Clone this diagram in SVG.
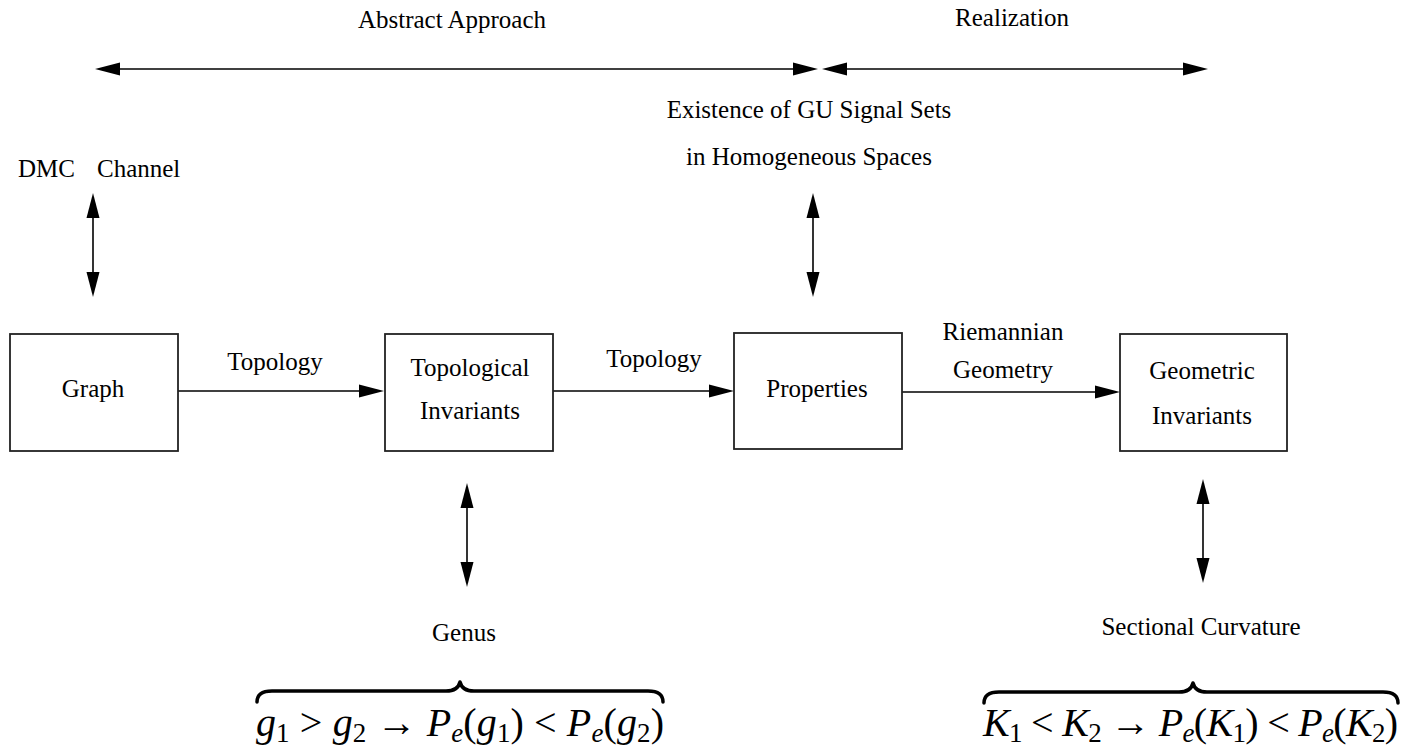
<svg xmlns="http://www.w3.org/2000/svg" width="1414" height="749" viewBox="0 0 1414 749">
<style>
text{font-family:"Liberation Serif","Times New Roman",serif;font-size:25px;fill:#000}
.c{text-anchor:middle}
.box{fill:#fff;stroke:#222;stroke-width:1.8}
.ln{stroke:#000;stroke-width:1.6;fill:none}
.math{font-size:40px}
.i{font-style:italic}
.sub{font-size:27px}
.brace{fill:none;stroke:#000;stroke-width:3.5;stroke-linecap:round;stroke-linejoin:round}
</style>
<defs>
<marker id="ah" viewBox="0 -7 25 14" refX="0" refY="0" markerWidth="25" markerHeight="14" markerUnits="userSpaceOnUse" orient="auto-start-reverse">
<path d="M0,-6.5 L25,0 L0,6.5 z" fill="#000"/>
</marker>
</defs>

<g id="labels-top">
<text class="c" x="452" y="28">Abstract Approach</text>
<text class="c" x="1012" y="26">Realization</text>
<text class="c" x="809" y="118">Existence of GU Signal Sets</text>
<text class="c" x="809" y="165">in Homogeneous Spaces</text>
<text x="18" y="177">DMC</text>
<text x="97" y="177">Channel</text>
</g>

<g id="connectors">
<line class="ln" x1="120" y1="69" x2="793" y2="69" marker-start="url(#ah)" marker-end="url(#ah)"/>
<line class="ln" x1="847" y1="69" x2="1183" y2="69" marker-start="url(#ah)" marker-end="url(#ah)"/>
<line class="ln" x1="93" y1="218" x2="93" y2="272" marker-start="url(#ah)" marker-end="url(#ah)"/>
<line class="ln" x1="813" y1="218" x2="813" y2="272" marker-start="url(#ah)" marker-end="url(#ah)"/>
<line class="ln" x1="178" y1="391" x2="359" y2="391" marker-end="url(#ah)"/>
<line class="ln" x1="553" y1="391" x2="709" y2="391" marker-end="url(#ah)"/>
<line class="ln" x1="902" y1="392" x2="1095" y2="392" marker-end="url(#ah)"/>
<line class="ln" x1="467" y1="508" x2="467" y2="562" marker-start="url(#ah)" marker-end="url(#ah)"/>
<line class="ln" x1="1203" y1="504" x2="1203" y2="558" marker-start="url(#ah)" marker-end="url(#ah)"/>
</g>

<g id="edge-labels">
<text class="c" x="275" y="370">Topology</text>
<text class="c" x="654" y="367">Topology</text>
<text class="c" x="1003" y="340">Riemannian</text>
<text class="c" x="1003" y="378">Geometry</text>
</g>

<g id="node-graph">
<rect class="box" x="10" y="334" width="168" height="117"/>
<text class="c" x="93" y="397">Graph</text>
</g>
<g id="node-topological-invariants">
<rect class="box" x="385" y="334" width="168" height="117"/>
<text class="c" x="470" y="376">Topological</text>
<text class="c" x="470" y="419">Invariants</text>
</g>
<g id="node-properties">
<rect class="box" x="734" y="333" width="168" height="116"/>
<text class="c" x="817" y="397">Properties</text>
</g>
<g id="node-geometric-invariants">
<rect class="box" x="1120" y="334" width="167" height="117"/>
<text class="c" x="1202" y="379">Geometric</text>
<text class="c" x="1202" y="424">Invariants</text>
</g>

<g id="node-genus">
<text class="c" x="464" y="641">Genus</text>
<path class="brace" d="M257,702 Q257,691 272,691 L446,691 Q458,691 460,682 Q462,691 474,691 L648,691 Q663,691 663,702"/>
<text class="math" x="256" y="736" textLength="408" lengthAdjust="spacing"><tspan class="i">g</tspan><tspan class="sub" dy="6">1</tspan><tspan dy="-6"> &gt; </tspan><tspan class="i">g</tspan><tspan class="sub" dy="6">2</tspan><tspan dy="-6"> → </tspan><tspan class="i">P</tspan><tspan class="sub i" dy="6">e</tspan><tspan dy="-6">(</tspan><tspan class="i">g</tspan><tspan class="sub" dy="6">1</tspan><tspan dy="-6">) &lt; </tspan><tspan class="i">P</tspan><tspan class="sub i" dy="6">e</tspan><tspan dy="-6">(</tspan><tspan class="i">g</tspan><tspan class="sub" dy="6">2</tspan><tspan dy="-6">)</tspan></text>
</g>

<g id="node-sectional-curvature">
<text class="c" x="1201" y="635">Sectional Curvature</text>
<path class="brace" d="M984,703 Q984,692 999,692 L1179,692 Q1191,692 1193,683 Q1195,692 1207,692 L1383,692 Q1398,692 1398,703"/>
<text class="math" x="983" y="736" textLength="415" lengthAdjust="spacing"><tspan class="i">K</tspan><tspan class="sub" dy="6">1</tspan><tspan dy="-6"> &lt; </tspan><tspan class="i">K</tspan><tspan class="sub" dy="6">2</tspan><tspan dy="-6"> → </tspan><tspan class="i">P</tspan><tspan class="sub i" dy="6">e</tspan><tspan dy="-6">(</tspan><tspan class="i">K</tspan><tspan class="sub" dy="6">1</tspan><tspan dy="-6">) &lt; </tspan><tspan class="i">P</tspan><tspan class="sub i" dy="6">e</tspan><tspan dy="-6">(</tspan><tspan class="i">K</tspan><tspan class="sub" dy="6">2</tspan><tspan dy="-6">)</tspan></text>
</g>
</svg>
